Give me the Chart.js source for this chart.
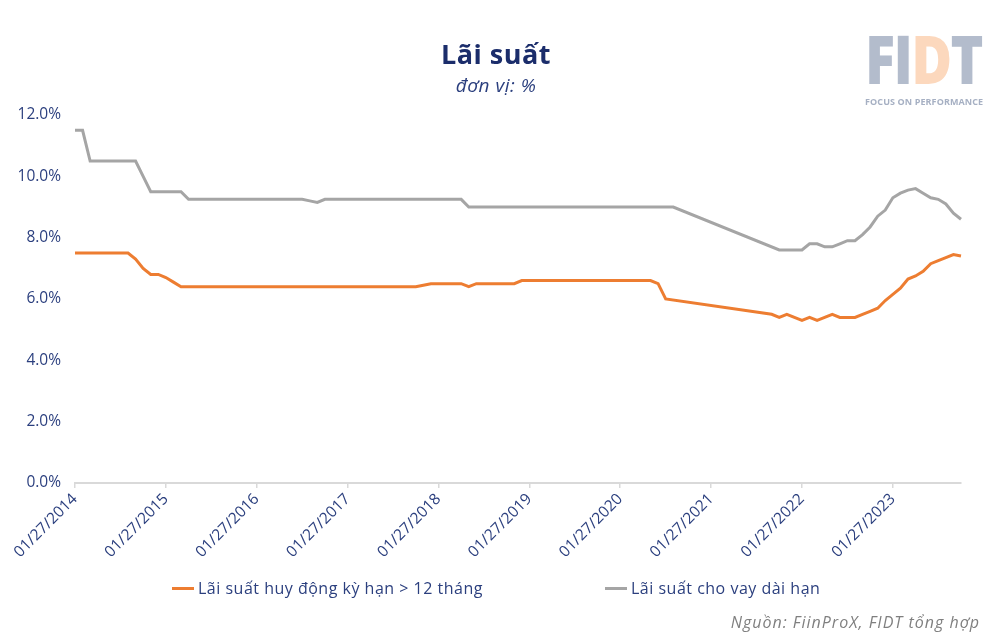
<!DOCTYPE html>
<html>
<head>
<meta charset="utf-8">
<script src="https://cdn.jsdelivr.net/npm/chart.js@4.4.1/dist/chart.umd.min.js"></script>
<style>
  body { margin: 0; background: #fff; }
  #wrap { position: relative; width: 1002px; height: 634px; font-family: 'Open Sans', sans-serif; overflow: hidden; }
  #chartLines { position: absolute; left: 0; top: 0; }
  .title { position: absolute; left: 0; width: 992px; text-align: center; color: #1b2d6b; }
  #title { top: 35px; font-size: 27px; font-weight: 700; letter-spacing: 0.5px; }
  #subtitle { top: 72px; font-size: 19px; font-style: italic; color: #2b3f7e; letter-spacing: 0.5px; }
  #logo { position: absolute; left: 865px; top: 24px; width: 124px; }
  #logo .big { font-size: 68px; font-weight: 800; color: #b3bccc; letter-spacing: -2px; line-height: 68px; transform: scaleX(0.82); transform-origin: left; white-space: nowrap; }
  #logo .big span { color: #fcd8bd; }
  #logo .small { font-size: 9px; font-weight: 700; color: #a6b0c3; margin-top: 3px; white-space: nowrap; letter-spacing: 0.1px; }
  #legend { position: absolute; top: 577px; left: 0; width: 1002px; font-size: 16px; color: #2b3f7e; letter-spacing: 0.5px; }
  .item { position: absolute; display: flex; align-items: center; white-space: nowrap; }
  .item i { display: inline-block; width: 22px; height: 3px; margin-right: 4px; }
  #source { position: absolute; right: 22px; top: 611px; font-size: 16px; font-style: italic; color: #7f7f7f; letter-spacing: 1px; }
</style>
</head>
<body>
<div id="wrap">
  <canvas id="chartLines" width="1002" height="634"></canvas>
  <div class="title" id="title">Lãi suất</div>
  <div class="title" id="subtitle">đơn vị: %</div>
  <div id="logo">
    <div class="big">FI<span>D</span>T</div>
    <div class="small">FOCUS ON PERFORMANCE</div>
  </div>
  <div id="legend">
    <div class="item" style="left:172px"><i style="background:#ed7d31"></i>Lãi suất huy động kỳ hạn &gt; 12 tháng</div>
    <div class="item" style="left:605px"><i style="background:#a5a5a5"></i>Lãi suất cho vay dài hạn</div>
  </div>
  <div id="source">Nguồn: FiinProX, FIDT tổng hợp</div>
</div>
<script>
// x axis labels, one per year (January)
const tickLabels = ['01/27/2014', '01/27/2015', '01/27/2016', '01/27/2017', '01/27/2018',
                    '01/27/2019', '01/27/2020', '01/27/2021', '01/27/2022', '01/27/2023'];
const firstYear = 2014;
const monthCount = 118; // Jan 2014 .. Oct 2023

// Lãi suất huy động kỳ hạn > 12 tháng (%), monthly
const depositRate = [
  7.5, 7.5, 7.5, 7.5, 7.5, 7.5, 7.5, 7.5, 7.3, 7.0, 6.8, 6.8,       // 2014
  6.7, 6.55, 6.4, 6.4, 6.4, 6.4, 6.4, 6.4, 6.4, 6.4, 6.4, 6.4,      // 2015
  6.4, 6.4, 6.4, 6.4, 6.4, 6.4, 6.4, 6.4, 6.4, 6.4, 6.4, 6.4,       // 2016
  6.4, 6.4, 6.4, 6.4, 6.4, 6.4, 6.4, 6.4, 6.4, 6.4, 6.45, 6.5,      // 2017
  6.5, 6.5, 6.5, 6.5, 6.4, 6.5, 6.5, 6.5, 6.5, 6.5, 6.5, 6.6,       // 2018
  6.6, 6.6, 6.6, 6.6, 6.6, 6.6, 6.6, 6.6, 6.6, 6.6, 6.6, 6.6,       // 2019
  6.6, 6.6, 6.6, 6.6, 6.6, 6.5, 6.0, null, null, null, null, null,  // 2020
  null, null, null, null, null, null, null, null, 5.5, 5.4, 5.5, 5.4, // 2021
  5.3, 5.4, 5.3, 5.4, 5.5, 5.4, 5.4, 5.4, 5.5, 5.6, 5.7, 5.95,      // 2022
  6.15, 6.35, 6.65, 6.75, 6.9, 7.15, 7.25, 7.35, 7.45, 7.4          // 2023
];

// Lãi suất cho vay dài hạn (%), monthly
const lendingRate = [
  11.5, 11.5, 10.5, 10.5, 10.5, 10.5, 10.5, 10.5, 10.5, 10.0, 9.5, 9.5, // 2014
  9.5, 9.5, 9.5, 9.25, 9.25, 9.25, 9.25, 9.25, 9.25, 9.25, 9.25, 9.25,  // 2015
  9.25, 9.25, 9.25, 9.25, 9.25, 9.25, 9.25, 9.2, 9.15, 9.25, 9.25, 9.25, // 2016
  9.25, 9.25, 9.25, 9.25, 9.25, 9.25, 9.25, 9.25, 9.25, 9.25, 9.25, 9.25, // 2017
  9.25, 9.25, 9.25, 9.25, 9.0, 9.0, 9.0, 9.0, 9.0, 9.0, 9.0, 9.0,       // 2018
  9.0, 9.0, 9.0, 9.0, 9.0, 9.0, 9.0, 9.0, 9.0, 9.0, 9.0, 9.0,           // 2019
  9.0, 9.0, 9.0, 9.0, 9.0, 9.0, 9.0, 9.0, null, null, null, null,       // 2020
  null, null, null, null, null, null, null, null, null, 7.6, 7.6, 7.6,   // 2021
  7.6, 7.8, 7.8, 7.7, 7.7, 7.8, 7.9, 7.9, 8.1, 8.35, 8.7, 8.9,          // 2022
  9.3, 9.45, 9.55, 9.6, 9.45, 9.3, 9.25, 9.1, 8.8, 8.6                  // 2023
];

const categories = [];
for (let i = 0; i < monthCount; i++) {
  const y = firstYear + Math.floor(i / 12);
  const m = String(i % 12 + 1).padStart(2, '0');
  categories.push(`${m}/27/${y}`);
}

const tickColor = '#2b3f7e';
const fontFamily = "'Open Sans', sans-serif";

new Chart(document.getElementById('chartLines'), {
  type: 'line',
  data: {
    labels: categories,
    datasets: [
      {
        label: 'Lãi suất huy động kỳ hạn > 12 tháng',
        data: depositRate,
        borderColor: '#ed7d31',
        backgroundColor: '#ed7d31',
        borderWidth: 3,
        pointRadius: 0,
        tension: 0,
        spanGaps: true
      },
      {
        label: 'Lãi suất cho vay dài hạn',
        data: lendingRate,
        borderColor: '#a5a5a5',
        backgroundColor: '#a5a5a5',
        borderWidth: 3,
        pointRadius: 0,
        tension: 0,
        spanGaps: true
      }
    ]
  },
  options: {
    responsive: false,
    animation: false,
    layout: { padding: { top: 115, right: 41, bottom: 0, left: 0 } },
    plugins: {
      legend: { display: false },
      tooltip: { enabled: false }
    },
    scales: {
      x: {
        offset: false,
        afterBuildTicks: (axis) => {
          axis.ticks = axis.ticks.filter(t => t.value % 12 === 0);
        },
        afterFit: (axis) => { axis.height = 151; },
        ticks: {
          autoSkip: false,
          minRotation: 45,
          maxRotation: 45,
          color: tickColor,
          font: { family: fontFamily, size: 15.5 },
          padding: 2,
          callback: (v) => tickLabels[v / 12]
        },
        grid: {
          drawOnChartArea: false,
          drawTicks: true,
          tickLength: 5,
          color: '#d9d9d9',
          lineWidth: 1.5
        },
        border: { color: '#d9d9d9', width: 2 }
      },
      y: {
        min: 0,
        max: 12,
        afterFit: (axis) => { axis.width = 75; },
        ticks: {
          stepSize: 2,
          color: tickColor,
          font: { family: fontFamily, size: 15.5 },
          padding: 14,
          callback: (v) => v.toFixed(1) + '%'
        },
        grid: { display: false, drawTicks: false },
        border: { display: false }
      }
    }
  }
});
</script>
</body>
</html>
